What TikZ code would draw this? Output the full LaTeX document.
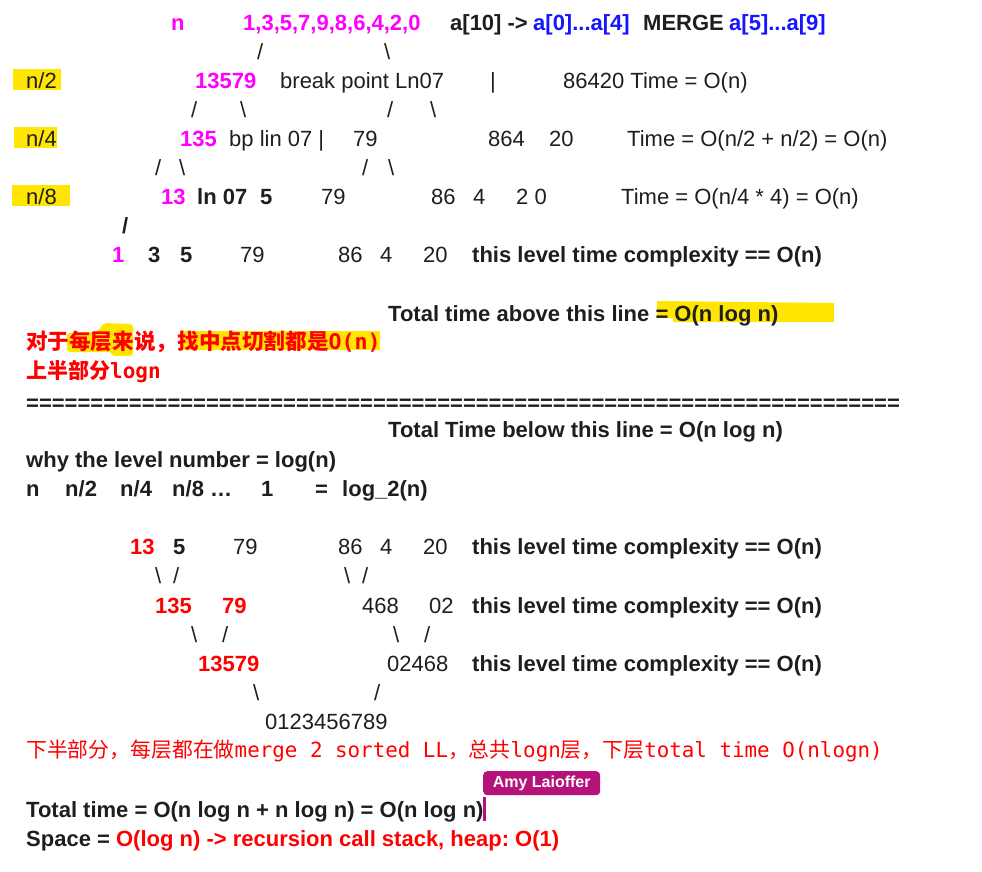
\documentclass[tikz,border=0pt]{standalone}
\usepackage{fontspec}
\setmainfont{Liberation Sans}
\newfontfamily\cjk{Noto Sans CJK SC}
\newfontfamily\mono{DejaVu Sans Mono}
\newcommand\fs{\fontsize{22}{26}\selectfont\frenchspacing}
\newcommand\fc{\fontsize{21}{25}\selectfont\frenchspacing}
\definecolor{mag}{HTML}{FF00FF}
\definecolor{blu}{HTML}{1515FF}
\definecolor{rd}{HTML}{FF0000}
\definecolor{tk}{HTML}{1E1E1E}
\definecolor{hl}{HTML}{FFE600}
\definecolor{tag}{HTML}{B5127A}
\tikzset{
  txt/.style={inner sep=0pt, anchor=base west, font=\fs, text=tk},
  bt/.style={txt, font=\fs\bfseries},
  mt/.style={bt, text=mag},
  bl/.style={bt, text=blu},
  rt/.style={bt, text=rd},
  cjkb/.style={inner sep=0pt, anchor=base west, text=rd, font=\fc\bfseries},
  cjkr/.style={inner sep=0pt, anchor=base west, text=rd, font=\fc},
}
\begin{document}
\begin{tikzpicture}[x=1pt,y=-1pt]
\useasboundingbox (0,0) rectangle (982,871);
% highlights
\fill[hl] (13,69) rectangle (61,90);
\fill[hl] (14,127) rectangle (57,148);
\fill[hl] (12,185) rectangle (70,206);
\fill[hl] (657,301) -- (834,303) -- (834,322) -- (673,322) -- (673,318) -- (657,318) -- cycle;
\fill[hl, rounded corners=3pt] (67,352) -- (67,333) -- (97,332) -- (104,323) -- (133,324) -- (133,356) -- (112,356) -- (112,352) -- cycle;
\fill[hl] (180,331) rectangle (380,350);
% row 1
\node[mt] (r1n) at (171,30) {n};
\node[mt] (r1arr) at (243,30) {1,3,5,7,9,8,6,4,2,0};
\node[bt] (r1a) at (450,30) {a[10] ->};
\node[bl] (r1b) at (533,30) {a[0]...a[4]};
\node[bt] (r1m) at (643,30) {MERGE};
\node[bl] (r1c) at (729,30) {a[5]...a[9]};
% row 2
\node[txt] (s2a) at (257,59) {/};
\node[txt] (s2b) at (384,59) {\textbackslash};
% row 3
\node[txt] (r3l) at (26,88) {n/2};
\node[mt] (r3a) at (195,88) {13579};
\node[txt] (r3b) at (280,88) {break point Ln07};
\node[txt] (r3c) at (490,88) {|};
\node[txt] (r3d) at (563,88) {86420 Time = O(n)};
% row 4
\node[txt] (s4a) at (191,117) {/};
\node[txt] (s4b) at (240,117) {\textbackslash};
\node[txt] (s4c) at (387,117) {/};
\node[txt] (s4d) at (430,117) {\textbackslash};
% row 5
\node[txt] (r5l) at (26,146) {n/4};
\node[mt] (r5a) at (180,146) {135};
\node[txt] (r5b) at (229,146) {bp lin 07 |};
\node[txt] (r5c) at (353,146) {79};
\node[txt] (r5d) at (488,146) {864};
\node[txt] (r5e) at (549,146) {20};
\node[txt] (r5f) at (627,146) {Time = O(n/2 + n/2) = O(n)};
% row 6
\node[txt] (s6a) at (155,175) {/};
\node[txt] (s6b) at (179,175) {\textbackslash};
\node[txt] (s6c) at (362,175) {/};
\node[txt] (s6d) at (388,175) {\textbackslash};
% row 7
\node[txt] (r7l) at (26,204) {n/8};
\node[mt] (r7a) at (161,204) {13};
\node[bt] (r7b) at (197,204) {ln 07};
\node[bt] (r7c) at (260,204) {5};
\node[txt] (r7d) at (321,204) {79};
\node[txt] (r7e) at (431,204) {86};
\node[txt] (r7f) at (473,204) {4};
\node[txt] (r7g) at (516,204) {2 0};
\node[txt] (r7h) at (621,204) {Time = O(n/4 * 4) = O(n)};
% row 8
\node[bt] (s8a) at (122,233) {/};
% row 9
\node[mt] (r9a) at (112,262) {1};
\node[bt] (r9b) at (148,262) {3};
\node[bt] (r9c) at (180,262) {5};
\node[txt] (r9d) at (240,262) {79};
\node[txt] (r9e) at (338,262) {86};
\node[txt] (r9f) at (380,262) {4};
\node[txt] (r9g) at (423,262) {20};
\node[bt] (r9h) at (472,262) {this level time complexity == O(n)};
% row 10
\node[bt] (r10) at (388,321) {Total time above this line = O(n log n)};
% Chinese
\node[cjkb, font=\fontsize{21.6}{25}\selectfont\bfseries] (r11) at (26,349) {{\cjk 对于每层来说，找中点切割都是}{\mono O(n)}};
\node[cjkb] (r12) at (26,378) {{\cjk 上半部分}{\mono logn}};
\node[bt] (r13) at (26,410) {====================================================================};
\node[bt] (r14) at (388,437) {Total Time below this line = O(n log n)};
\node[bt] (r15) at (26,467) {why the level number = log(n)};
\node[bt] (r16a) at (26,496) {n};
\node[bt] (r16b) at (65,496) {n/2};
\node[bt] (r16c) at (120,496) {n/4};
\node[bt] (r16d) at (172,496) {n/8 …};
\node[bt] (r16e) at (261,496) {1};
\node[bt] (r16f) at (315,496) {=};
\node[bt] (r16g) at (342,496) {log\_2(n)};
% lower tree
\node[rt] (r17a) at (130,554) {13};
\node[bt] (r17b) at (173,554) {5};
\node[txt] (r17c) at (233,554) {79};
\node[txt] (r17d) at (338,554) {86};
\node[txt] (r17e) at (380,554) {4};
\node[txt] (r17f) at (423,554) {20};
\node[bt] (r17g) at (472,554) {this level time complexity == O(n)};
\node[txt] (s18a) at (155,583) {\textbackslash};
\node[txt] (s18b) at (173,583) {/};
\node[txt] (s18c) at (344,583) {\textbackslash};
\node[txt] (s18d) at (362,583) {/};
\node[rt] (r19a) at (155,613) {135};
\node[rt] (r19b) at (222,613) {79};
\node[txt] (r19c) at (362,613) {468};
\node[txt] (r19d) at (429,613) {02};
\node[bt] (r19e) at (472,613) {this level time complexity == O(n)};
\node[txt] (s20a) at (191,642) {\textbackslash};
\node[txt] (s20b) at (222,642) {/};
\node[txt] (s20c) at (393,642) {\textbackslash};
\node[txt] (s20d) at (424,642) {/};
\node[rt] (r21a) at (198,671) {13579};
\node[txt] (r21b) at (387,671) {02468};
\node[bt] (r21c) at (472,671) {this level time complexity == O(n)};
\node[txt] (s22a) at (253,700) {\textbackslash};
\node[txt] (s22b) at (374,700) {/};
\node[txt] (r23) at (265,729) {0123456789};
\node[cjkr, font=\fontsize{20.85}{25}\selectfont] (r24) at (26,757) {{\cjk 下半部分，每层都在做}{\mono merge 2 sorted LL}{\cjk ，总共}{\mono logn}{\cjk 层，下层}{\mono total time O(nlogn)}};
% tag
\node[fill=tag, rounded corners=4pt, minimum width=117pt, minimum height=24pt, inner sep=0pt, text=white, font=\fontsize{16}{18}\selectfont\bfseries, anchor=north west] (tag) at (483,771) {Amy Laioffer};
\fill[tag] (483,797) rectangle (485.5,821);
\node[bt] (r26) at (26,817) {Total time = O(n log n + n log n) = O(n log n)};
\node[bt] (r27) at (26,846) {Space = \textcolor{rd}{O(log n) -> recursion call stack, heap: O(1)}};
\end{tikzpicture}
\end{document}
